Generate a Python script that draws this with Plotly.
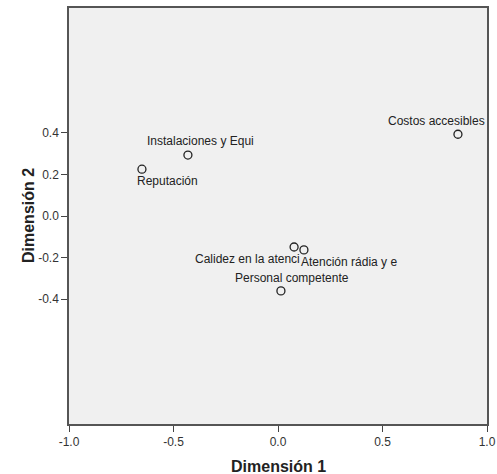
import plotly.graph_objects as go

labels = ["Costos accesibles", "Instalaciones y Equi", "Reputación",
          "Calidez en la atenci", "Atención rádia y e", "Personal competente"]
dim1 = [0.861, -0.431, -0.651, 0.077, 0.124, 0.014]
dim2 = [0.393, 0.293, 0.225, -0.149, -0.163, -0.360]

x_ticks = [-1, -0.5, 0, 0.5, 1]
x_ticktext = ["-1.0", "-0.5", "0.0", "0.5", "1.0"]
y_ticks = [-0.4, -0.2, 0, 0.2, 0.4]
y_ticktext = ["-0.4", "-0.2", "0.0", "0.2", "0.4"]

# label offsets in pixels (styling)
xshifts = [-21, 13, 26, -47, 45, 11]
yshifts = [13, 14, -12, -12, -12, 13]

fig = go.Figure()
fig.add_trace(go.Scatter(
    x=dim1, y=dim2, mode="markers",
    marker=dict(symbol="circle-open", size=8, color="#222222", line=dict(width=1.3)),
    hoverinfo="skip", showlegend=False))

for lab, x, y, xs, ys in zip(labels, dim1, dim2, xshifts, yshifts):
    fig.add_annotation(x=x, y=y, text=lab, showarrow=False, xshift=xs, yshift=ys,
                       font=dict(family="Liberation Sans, Arial", size=12, color="#222222"))

fig.add_annotation(xref="paper", yref="paper", x=0.5, y=0, yshift=-42, yanchor="middle",
                   text="<b>Dimensión 1</b>", showarrow=False,
                   font=dict(family="Liberation Sans, Arial", size=16, color="#222222"))
fig.add_annotation(xref="paper", yref="paper", x=0, y=0.5, xshift=-41, xanchor="center",
                   text="<b>Dimensión 2</b>", showarrow=False, textangle=-90,
                   font=dict(family="Liberation Sans, Arial", size=16, color="#222222"))

fig.update_layout(
    width=497, height=474,
    margin=dict(l=69, r=10, t=8, b=50, autoexpand=False),
    paper_bgcolor="white", plot_bgcolor="#f0f0f0",
    font=dict(family="Liberation Sans, Arial", size=12, color="#333333"),
    xaxis=dict(range=[-1, 1], tickvals=x_ticks, ticktext=x_ticktext,
               showgrid=False, zeroline=False, ticks="outside", ticklen=6,
               tickcolor="#444444", showline=True, linecolor="#555555", linewidth=1.5,
               mirror=True, automargin=False),
    yaxis=dict(range=[-1, 1], tickvals=y_ticks, ticktext=y_ticktext,
               showgrid=False, zeroline=False, ticks="outside", ticklen=6,
               tickcolor="#444444", showline=True, linecolor="#555555", linewidth=1.5,
               mirror=True, automargin=False),
)

fig.write_html("out.html", config={"displayModeBar": False},
               post_script="document.body.style.margin='0px';document.body.style.overflow='hidden';")
